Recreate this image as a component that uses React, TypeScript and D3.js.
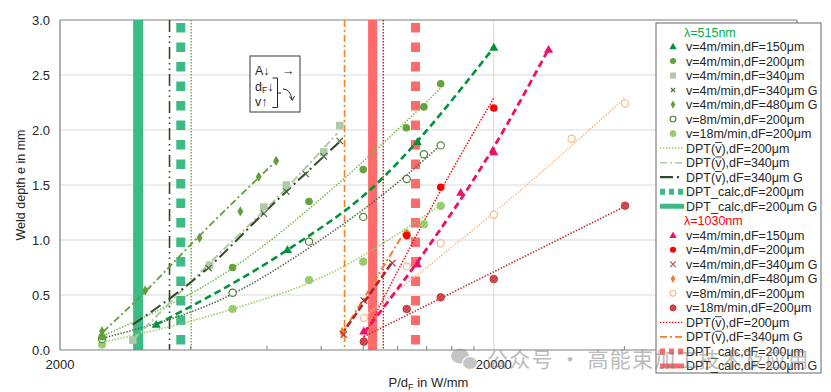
import React from "react";
import * as d3 from "d3";

type P = [number, number];

// ---- axis ticks ----
const xMajor = [2000, 20000];
const xMinor = [4000, 6000, 8000, 10000, 12000, 14000, 16000, 18000, 40000, 60000, 80000];
const yTicks = [0, 0.5, 1, 1.5, 2, 2.5, 3];

// ---- λ = 515 nm measured points (P/dF in W/mm, depth in mm) ----
const g150: P[] = [[3333, 0.23], [6690, 0.91], [13330, 1.89], [20000, 2.75]];
const g200: P[] = [[2500, 0.12], [5000, 0.75], [7500, 1.35], [10000, 1.64], [12570, 2.02], [13800, 2.21], [15090, 2.42]];
const g340: P[] = [[2943, 0.09], [4425, 0.77], [5900, 1.3], [6650, 1.5], [8110, 1.8], [8830, 2.04]];
const g340G: P[] = [[4400, 0.745], [5900, 1.24], [6650, 1.44], [7370, 1.6], [8110, 1.76], [8830, 1.9]];
const g480G: P[] = [[2500, 0.17], [3144, 0.54], [4195, 1.02], [5208, 1.26], [5742, 1.575], [6300, 1.72]];
const g8: P[] = [[2500, 0.1], [5000, 0.52], [7500, 0.985], [10000, 1.21], [12600, 1.555], [13800, 1.78], [15090, 1.86]];
const g18: P[] = [[2500, 0.05], [5000, 0.373], [7500, 0.636], [10000, 0.803], [12600, 1.055], [13800, 1.143], [15090, 1.31]];

// trend lines
const g150Fit: P[] = [[3333, 0.23], [6690, 0.91], [10130, 1.42], [20000, 2.75]];
const g200Fit: P[] = [[2474, 0.118], [5000, 0.745], [9010, 1.555], [15090, 2.38]];
const g340Fit: P[] = [[2943, 0.09], [4425, 0.79], [6650, 1.47], [8710, 1.97]];
const g340GFit: P[] = [[2943, 0.23], [4425, 0.76], [5900, 1.245], [8946, 1.915]];
const g480GFit: P[] = [[2514, 0.164], [3144, 0.53], [4100, 1.0], [6330, 1.727]];
const g8Fit: P[] = [[2514, 0.109], [5000, 0.51], [7970, 1.0], [12200, 1.545], [15090, 1.864]];
const g18Fit: P[] = [[2474, 0.064], [5000, 0.373], [7970, 0.655], [15090, 1.318]];

// ---- λ = 1030 nm measured points ----
const r150: P[] = [[10030, 0.17], [13330, 0.78], [16780, 1.43], [20000, 1.8], [26750, 2.73]];
const r200: P[] = [[12600, 1.04], [15090, 1.48], [20000, 2.2]];
const r340G: P[] = [[9020, 0.14], [10030, 0.45], [11670, 0.79]];
const r480G: P[] = [[8946, 0.166], [12600, 1.06]];
const r8: P[] = [[10030, 0.29], [12600, 0.76], [15090, 0.97], [20000, 1.23], [30240, 1.92], [40140, 2.24]];
const r18: P[] = [[10030, 0.076], [12600, 0.373], [15090, 0.479], [20000, 0.645], [40140, 1.312]];

const r150Fit: P[] = [[10030, 0.155], [13330, 0.8], [20000, 1.845], [26750, 2.736]];
const r200Fit: P[] = [[10030, 0.12], [15090, 1.45], [20000, 2.29]];
const r340GFit: P[] = [[8900, 0.136], [11670, 0.8]];
const r480GFit: P[] = [[8946, 0.15], [12530, 1.09]];
const r8Fit: P[] = [[10030, 0.3], [23080, 1.455], [40340, 2.3]];
const r18Fit: P[] = [[10030, 0.121], [40000, 1.303]];

// ---- vertical DPT lines (P/dF) ----
const vDpt515_200 = 4013;
const vDpt515_340G = 3577;
const vCalc515_200 = 3797;
const vCalc515_200G = 3028;
const vDpt1030_200 = 11125;
const vDpt1030_340G = 9056;
const vCalc1030_200 = 13200;
const vCalc1030_200G = 10510;

// ---- legend ----
const legendLabels = [
  "λ=515nm",
  "v=4m/min,dF=150μm",
  "v=4m/min,dF=200μm",
  "v=4m/min,dF=340μm",
  "v=4m/min,dF=340μm G",
  "v=4m/min,dF=480μm G",
  "v=8m/min,dF=200μm",
  "v=18m/min,dF=200μm",
  "DPT(v),dF=200μm",
  "DPT(v),dF=340μm",
  "DPT(v),dF=340μm G",
  "DPT_calc,dF=200μm",
  "DPT_calc,dF=200μm G",
  "λ=1030nm",
  "v=4m/min,dF=150μm",
  "v=4m/min,dF=200μm",
  "v=4m/min,dF=340μm G",
  "v=4m/min,dF=480μm G",
  "v=8m/min,dF=200μm",
  "v=18m/min,dF=200μm",
  "DPT(v),dF=200μm",
  "DPT(v),dF=340μm G",
  "DPT_calc,dF=200μm",
  "DPT_calc,dF=200μm G",
];

// colours
const C = {
  g150: "#00923c",
  g200: "#66a33f",
  g340: "#b0c9a6",
  g340G: "#4d6a3c",
  g480: "#5f9f37",
  g8: "#4f7f3a",
  g8Line: "#51633f",
  g18: "#92cc5a",
  gDot: "#76b94f",
  gBand: "#3dbb87",
  gDark: "#2f4a24",
  r150: "#ee1166",
  r200: "#ff0000",
  r340G: "#b32424",
  r340Leg: "#c0504d",
  r480: "#ed7d31",
  r8: "#f7b98b",
  r18: "#c0282d",
  rBand: "#ff6a6a",
  rOrange: "#f58220",
};

const FONT = "'Liberation Sans', Arial, sans-serif";

function Marker({ t, cx, cy, c, s = 1 }: { t: string; cx: number; cy: number; c: string; s?: number }) {
  if (t === "tri") {
    const p = d3.symbol().type(d3.symbolTriangle).size(36 * s * s)();
    return <path d={p as string} transform={`translate(${cx},${cy + 0.5})`} fill={c} />;
  }
  if (t === "circle") return <circle cx={cx} cy={cy} r={3.8 * s} fill={c} />;
  if (t === "open") return <circle cx={cx} cy={cy} r={3.6 * s} fill="white" stroke={c} strokeWidth={1.2} />;
  if (t === "hatchG") return <circle cx={cx} cy={cy} r={3.8 * s} fill="url(#hatchG)" stroke={c} strokeWidth={0.8} />;
  if (t === "hatchR") return <circle cx={cx} cy={cy} r={3.8 * s} fill="url(#hatchR)" stroke={c} strokeWidth={0.8} />;
  if (t === "square") {
    const h = 3.8 * s;
    return <rect x={cx - h} y={cy - h} width={2 * h} height={2 * h} fill={c} />;
  }
  if (t === "diamond") {
    const p = d3.symbol().type(d3.symbolDiamond).size(30 * s * s)();
    return <path d={p as string} transform={`translate(${cx},${cy})`} fill={c} />;
  }
  if (t === "x") {
    const h = 3.2 * s;
    return (
      <g stroke={c} strokeWidth={1.2}>
        <line x1={cx - h} y1={cy - h} x2={cx + h} y2={cy + h} />
        <line x1={cx - h} y1={cy + h} x2={cx + h} y2={cy - h} />
      </g>
    );
  }
  return null;
}

export default function App() {
  const left = 60, right = 797, top = 20, bottom = 350;
  const x = d3.scaleLog().domain([2000, 100000]).range([left, right]);
  const y = d3.scaleLinear().domain([0, 3]).range([bottom, top]);
  const line = d3.line<P>().x((d) => x(d[0])).y((d) => y(d[1])).curve(d3.curveMonotoneX);

  const pts = (data: P[], t: string, c: string) =>
    data.map((d, i) => <Marker key={t + i} t={t} cx={x(d[0])} cy={y(d[1])} c={c} />);

  const fit = (data: P[], c: string, w: number, dash: string) => (
    <path d={line(data) as string} fill="none" stroke={c} strokeWidth={w} strokeDasharray={dash} />
  );

  const vline = (v: number, c: string, w: number, dash: string, y0 = top) => (
    <line x1={x(v)} x2={x(v)} y1={y0} y2={bottom} stroke={c} strokeWidth={w} strokeDasharray={dash} />
  );

  const lgX = 656, lgY = 23, lgW = 165, lgH = 350;
  const rowY = (i: number) => 32 + i * 14.52;
  const symX = 673, txtX = 686, smpA = 660, smpB = 684;

  const legendSymbol = (i: number) => {
    const cy = rowY(i);
    const s = 0.8;
    switch (i) {
      case 1: return <Marker t="tri" cx={symX} cy={cy} c={C.g150} s={s} />;
      case 2: return <Marker t="circle" cx={symX} cy={cy} c={C.g200} s={s} />;
      case 3: return <Marker t="square" cx={symX} cy={cy} c={C.g340} s={s} />;
      case 4: return <Marker t="x" cx={symX} cy={cy} c={C.g340G} s={0.65} />;
      case 5: return <Marker t="diamond" cx={symX} cy={cy} c={C.g480} s={s} />;
      case 6: return <Marker t="open" cx={symX} cy={cy} c={C.g8} s={s} />;
      case 7: return <Marker t="hatchG" cx={symX} cy={cy} c={C.g18} s={s} />;
      case 8: return <line x1={smpA} x2={smpB} y1={cy} y2={cy} stroke={C.gDot} strokeWidth={1.4} strokeDasharray="1.4,1.6" />;
      case 9: return <line x1={smpA} x2={smpB} y1={cy} y2={cy} stroke={C.g340} strokeWidth={1.6} strokeDasharray="7,3,2,3" />;
      case 10: return <line x1={smpA} x2={smpB} y1={cy} y2={cy} stroke={C.gDark} strokeWidth={2.2} strokeDasharray="13,4,2,6" />;
      case 11: return <line x1={smpA} x2={smpB + 2} y1={cy} y2={cy} stroke={C.gBand} strokeWidth={6} strokeDasharray="5,4" />;
      case 12: return <line x1={smpA} x2={smpB} y1={cy} y2={cy} stroke={C.gBand} strokeWidth={5} />;
      case 14: return <Marker t="tri" cx={symX} cy={cy} c={C.r150} s={s} />;
      case 15: return <Marker t="circle" cx={symX} cy={cy} c={C.r200} s={s} />;
      case 16: return <Marker t="x" cx={symX} cy={cy} c={C.r340Leg} s={0.9} />;
      case 17: return <Marker t="diamond" cx={symX} cy={cy} c={C.r480} s={s} />;
      case 18: return <Marker t="open" cx={symX} cy={cy} c={C.r8} s={s} />;
      case 19: return <Marker t="hatchR" cx={symX} cy={cy} c={C.r18} s={s} />;
      case 20: return <line x1={smpA} x2={smpB} y1={cy} y2={cy} stroke={C.r200} strokeWidth={1.4} strokeDasharray="1.4,1.6" />;
      case 21: return <line x1={smpA} x2={smpB} y1={cy} y2={cy} stroke={C.rOrange} strokeWidth={1.6} strokeDasharray="7,3,2,3" />;
      case 22: return <line x1={smpA} x2={smpB + 2} y1={cy} y2={cy} stroke={C.rBand} strokeWidth={6} strokeDasharray="5,4" />;
      case 23: return <line x1={smpA} x2={smpB} y1={cy} y2={cy} stroke={C.rBand} strokeWidth={5} />;
      default: return null;
    }
  };

  const legendText = (label: string, i: number) => {
    const by = rowY(i) + 4.5;
    if (i === 0 || i === 13) {
      return (
        <text key={"t" + i} x={684} y={by} fill={i === 0 ? "#00b050" : "#ff0000"} fontSize={12.5}>{label}</text>
      );
    }
    if (label.startsWith("DPT(v)")) {
      // overline on the "v" (DPT( ≈ 29.2px wide at 12.5px Arial metrics)
      const vx = txtX + 29.4;
      return (
        <g key={"t" + i}>
          <text x={txtX} y={by} fill="#262626" fontSize={12.5}>{label}</text>
          <line x1={vx - 0.3} x2={vx + 6.4} y1={by - 10.2} y2={by - 10.2} stroke="#262626" strokeWidth={0.9} />
        </g>
      );
    }
    return <text key={"t" + i} x={txtX} y={by} fill="#262626" fontSize={12.5}>{label}</text>;
  };

  return (
    <div style={{ position: "absolute", left: 0, top: 0 }}>
      <svg width={831} height={392} style={{ display: "block", fontFamily: FONT }}>
        <defs>
          <pattern id="hatchG" width={2.4} height={2.4} patternUnits="userSpaceOnUse" patternTransform="rotate(45)">
            <rect width={2.4} height={2.4} fill="#a8d67a" />
            <line x1={0} y1={0} x2={0} y2={2.4} stroke="#6fa845" strokeWidth={1.1} />
          </pattern>
          <pattern id="hatchR" width={2.4} height={2.4} patternUnits="userSpaceOnUse" patternTransform="rotate(45)">
            <rect width={2.4} height={2.4} fill="#d9575a" />
            <line x1={0} y1={0} x2={0} y2={2.4} stroke="#9e1a1f" strokeWidth={1.1} />
          </pattern>
        </defs>
        <rect width={831} height={392} fill="white" />

        {/* gridlines */}
        {yTicks.slice(1, -1).map((t) => (
          <line key={"gy" + t} x1={left} x2={right} y1={y(t)} y2={y(t)} stroke="#d9d9d9" strokeWidth={1} />
        ))}
        <line x1={x(20000)} x2={x(20000)} y1={top} y2={bottom} stroke="#d9d9d9" strokeWidth={1} />

        {/* frame */}
        <line x1={left} x2={right} y1={top} y2={top} stroke="#7f7f7f" strokeWidth={1.2} />
        <line x1={left} x2={left} y1={top} y2={bottom} stroke="#7f7f7f" strokeWidth={1.2} />
        <line x1={right} x2={right} y1={top} y2={bottom} stroke="#7f7f7f" strokeWidth={1.2} />

        {/* vertical DPT bands / lines */}
        {vline(vCalc515_200G, C.gBand, 10, "")}
        {vline(vCalc515_200, C.gBand, 9, "9.5,10", 23)}
        {vline(vDpt515_340G, C.gDark, 1.6, "12,4,1.5,4,1.5,4")}
        {vline(vDpt515_200, C.gDot, 1.6, "1.4,1.6")}
        {vline(vCalc1030_200G, C.rBand, 9, "")}
        {vline(vCalc1030_200, C.rBand, 9, "9.5,10", 23)}
        {vline(vDpt1030_340G, C.rOrange, 1.6, "7,3,2,3")}
        {vline(vDpt1030_200, C.r200, 1.4, "1.4,1.6")}

        {/* trend lines 515 */}
        {fit(g18Fit, C.g18, 1.6, "1.4,1.6")}
        {fit(g8Fit, C.g8Line, 1.6, "1.4,1.6")}
        {fit(g200Fit, C.gDot, 1.6, "1.4,1.6")}
        {fit(g480GFit, C.g480, 1.8, "7,3,2,3")}
        {fit(g340Fit, C.g340, 2, "8,3,2,3")}
        {fit(g340GFit, C.gDark, 2, "12,4,2,4")}
        {fit(g150Fit, C.g150, 2.6, "7,4")}

        {/* trend lines 1030 */}
        {fit(r18Fit, C.r18, 1.6, "1.4,1.6")}
        {fit(r8Fit, C.r8, 1.6, "1.4,1.6")}
        {fit(r200Fit, C.r200, 1.5, "1.4,1.6")}
        {fit(r480GFit, C.r480, 2, "7,3,2,3")}
        {fit(r340GFit, C.r340G, 2.6, "7,3")}
        {fit(r150Fit, C.r150, 2.8, "7,4")}

        {/* markers 515 */}
        {pts(g340, "square", C.g340)}
        {pts(g340G, "x", C.g340G)}
        {pts(g18, "hatchG", C.g18)}
        {pts(g8, "open", C.g8)}
        {pts(g200, "circle", C.g200)}
        {pts(g480G, "diamond", C.g480)}
        {pts(g150, "tri", C.g150)}

        {/* markers 1030 */}
        {pts(r18, "hatchR", C.r18)}
        {pts(r8, "open", C.r8)}
        {pts(r480G, "diamond", C.r480)}
        {pts(r340G, "x", C.r340G)}
        {pts(r200, "circle", C.r200)}
        {pts(r150, "tri", C.r150)}

        {/* x axis */}
        <line x1={left} x2={right} y1={bottom} y2={bottom} stroke="#7f7f7f" strokeWidth={1.2} />
        {xMinor.map((t) => (
          <line key={"xm" + t} x1={x(t)} x2={x(t)} y1={bottom} y2={bottom - 4} stroke="#7f7f7f" strokeWidth={1} />
        ))}
        {xMajor.map((t) => (
          <text key={"xl" + t} x={x(t)} y={369} textAnchor="middle" fontSize={13} fill="#262626">{t}</text>
        ))}
        {yTicks.map((t) => (
          <text key={"yl" + t} x={50} y={y(t) + 4.6} textAnchor="end" fontSize={13} fill="#262626">{t.toFixed(1)}</text>
        ))}
        <text x={(left + right) / 2} y={387} textAnchor="middle" fontSize={13} fill="#262626">
          P/d<tspan fontSize={9} dy={3}>F</tspan><tspan dy={-3}> in W/mm</tspan>
        </text>
        <text transform={`translate(25,${(top + bottom) / 2}) rotate(-90)`} textAnchor="middle" fontSize={12.5} fill="#262626">
          Weld depth e in mm
        </text>

        {/* annotation box */}
        <rect x={250} y={56} width={50} height={56} fill="white" stroke="#595959" strokeWidth={1.2} />
        <text x={255} y={75} fontSize={12.5} fill="#262626">A↓</text>
        <text x={282} y={75} fontSize={12.5} fill="#262626">→</text>
        <text x={255} y={91} fontSize={12.5} fill="#262626">
          d<tspan fontSize={8.5} dy={2}>F</tspan><tspan dy={-2}>↓</tspan>
        </text>
        <text x={255} y={106} fontSize={12.5} fill="#262626">v↑</text>
        <path d="M272.5,78 H277.5 V107.5 H272.5 M277.5,93 H281" fill="none" stroke="#262626" strokeWidth={1} />
        <path d="M283,89 Q290,89 292,99" fill="none" stroke="#262626" strokeWidth={1} />
        <path d="M289.5,96.5 L292.3,100.5 L294.5,96" fill="none" stroke="#262626" strokeWidth={1} />

        {/* legend */}
        <rect x={lgX} y={lgY} width={lgW} height={lgH} fill="white" stroke="#7f7f7f" strokeWidth={1.2} />
        {legendLabels.map((l, i) => (
          <g key={"lg" + i}>
            {legendSymbol(i)}
            {legendText(l, i)}
          </g>
        ))}

        {/* watermark */}
        <g opacity={0.5}>
          <ellipse cx={460} cy={356} rx={9} ry={7.5} fill="#8c8c8c" />
          <ellipse cx={470} cy={363} rx={7.5} ry={6.5} fill="#8c8c8c" stroke="white" strokeWidth={1.2} />
          <text x={487} y={367} fontSize={21} letterSpacing={1.2} fill="#7a7a7a" fontFamily="'Noto Sans CJK SC', sans-serif">
            公众号 · 高能束加工技术及应用
          </text>
        </g>
      </svg>
    </div>
  );
}
